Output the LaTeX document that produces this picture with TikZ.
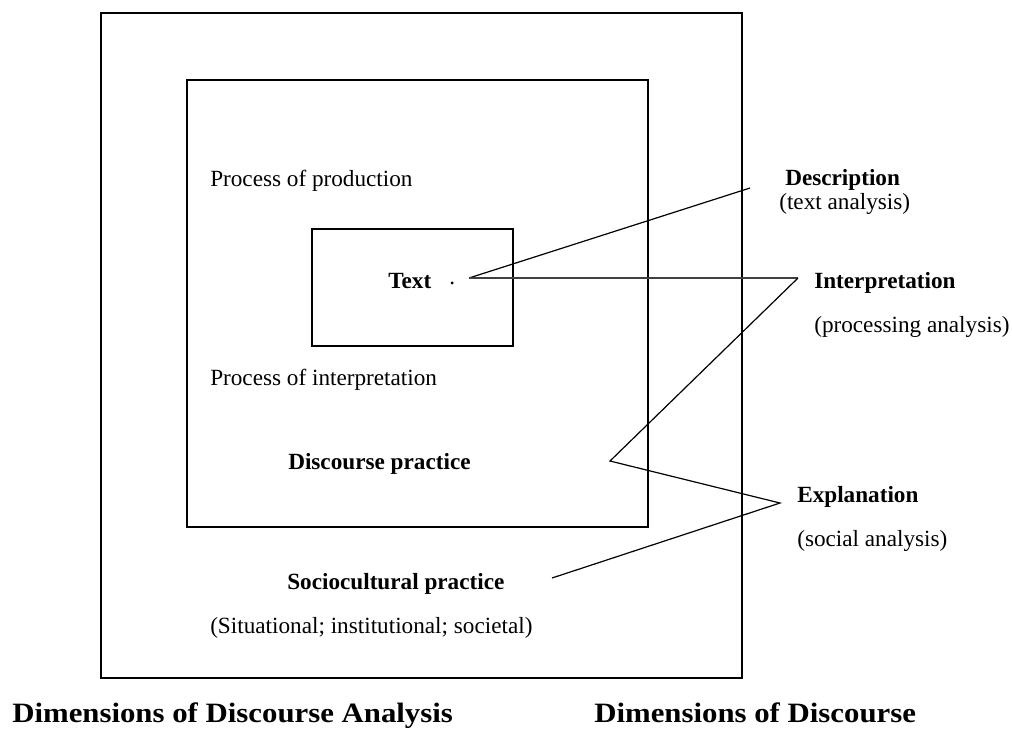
\documentclass[tikz,border=0pt]{standalone}
\usepackage{fontspec}
\setmainfont{Liberation Serif}
\begin{document}
\begin{tikzpicture}[x=0.75pt,y=-0.75pt,
  boxline/.style={draw=black,line width=1.1pt},
  conn/.style={draw=black,line width=0.9pt},
  lbl/.style={inner sep=0pt,anchor=west,font=\fontsize{17.4pt}{20pt}\selectfont},
  blbl/.style={inner sep=0pt,anchor=west,font=\fontsize{17.4pt}{20pt}\selectfont\bfseries},
  title/.style={inner sep=0pt,anchor=base west,xscale=1.1,font=\fontsize{21pt}{24pt}\selectfont\bfseries}]
\useasboundingbox (0,0) rectangle (1012,729);
% boxes
\draw[boxline] (101,13) rectangle (742,678);
\draw[boxline] (187,80) rectangle (648,527);
\draw[boxline] (312,229) rectangle (513,346);
% texts inside
\node[lbl] (prod) at (210,181) {Process of production};
\node[blbl] (text) at (388,281) {Text};
\node[lbl] (dot) at (449,283) {.};
\node[lbl] (interp) at (210,380) {Process of interpretation};
\node[blbl] (dp) at (288,464) {Discourse practice};
\node[blbl] (sp) at (287,584) {Sociocultural practice};
\node[lbl] (sit) at (210,628) {(Situational; institutional; societal)};
% right labels
\node[blbl] (desc) at (785,180) {Description};
\node[lbl] (desca) at (779,204) {(text analysis)};
\node[blbl] (intp) at (814,283) {Interpretation};
\node[lbl] (intpa) at (814,327) {(processing analysis)};
\node[blbl] (expl) at (797,497) {Explanation};
\node[lbl] (expla) at (797,541) {(social analysis)};
% titles
\node[title] (t1) at (12,722) {Dimensions of Discourse Analysis};
\node[title] (t2) at (594,722) {Dimensions of Discourse};
% connector points
\coordinate (ts) at (469,278);
\coordinate (dp1) at (750,188);
\coordinate (ip) at (798,278);
\coordinate (zz) at (610,461);
\coordinate (ep) at (780,503);
\coordinate (se) at (552,578);
\draw[conn] (ts) -- (dp1);
\draw[conn,draw=black!75,line width=0.8pt] (ts) -- (ip);
\draw[conn] (ip) -- (zz) -- (ep) -- (se);
\end{tikzpicture}
\end{document}
